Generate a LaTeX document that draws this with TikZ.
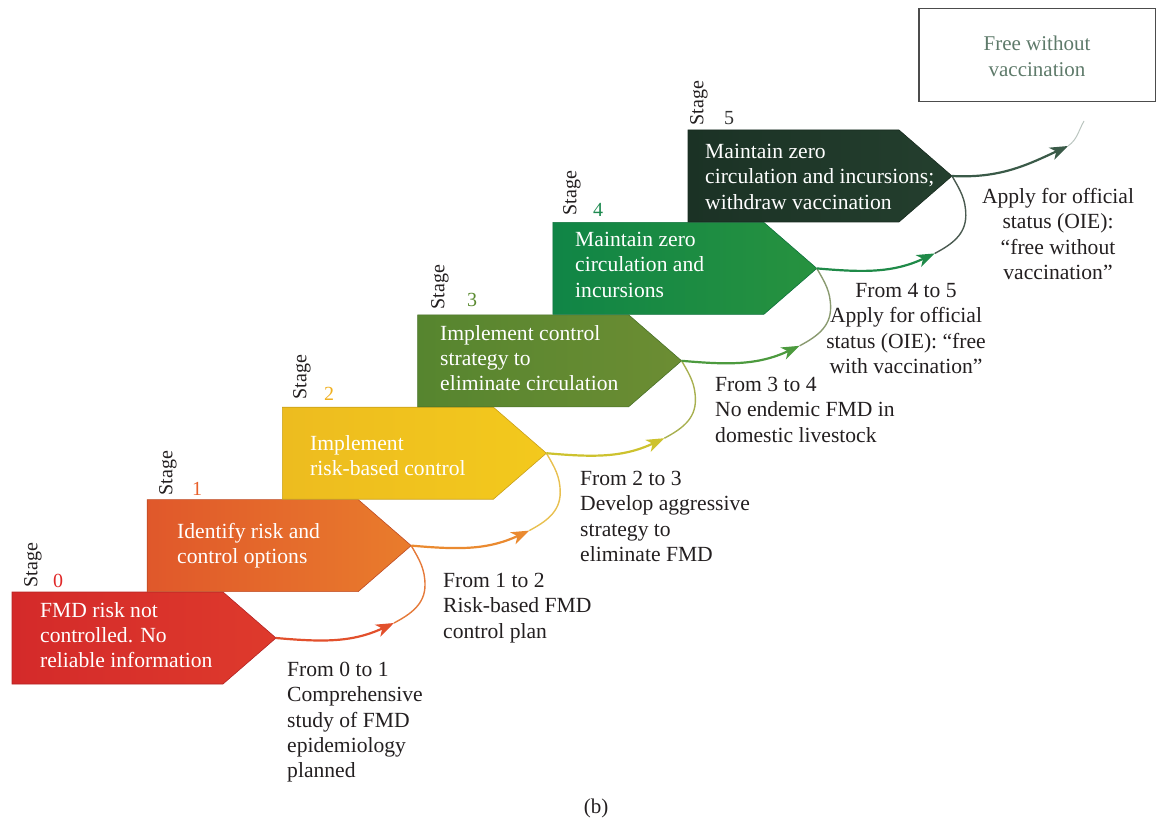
\documentclass[tikz,border=0pt]{standalone}
\usepackage{fontspec}
\setmainfont{Liberation Serif}
\usetikzlibrary{arrows.meta}
\definecolor{sA0}{HTML}{D42A2A}\definecolor{sB0}{HTML}{DE3A2C}
\definecolor{sA1}{HTML}{E0582B}\definecolor{sB1}{HTML}{E97C2C}
\definecolor{sA2}{HTML}{EDBC1F}\definecolor{sB2}{HTML}{F3C91D}
\definecolor{sA3}{HTML}{56852F}\definecolor{sB3}{HTML}{6C8D33}
\definecolor{sA4}{HTML}{108546}\definecolor{sB4}{HTML}{27923F}
\definecolor{sA5}{HTML}{1B3225}\definecolor{sB5}{HTML}{243F2E}
\definecolor{n0}{HTML}{E02828}\definecolor{n1}{HTML}{E8602A}
\definecolor{n2}{HTML}{F0B020}\definecolor{n3}{HTML}{5A8A30}
\definecolor{n4}{HTML}{1E8A50}\definecolor{n5}{HTML}{333333}
\definecolor{c0}{HTML}{E2502C}\definecolor{d0}{HTML}{E57A3A}
\definecolor{c1}{HTML}{EA8A30}\definecolor{d1}{HTML}{E8C050}
\definecolor{c2}{HTML}{CDC22E}\definecolor{d2}{HTML}{A8B050}
\definecolor{c3}{HTML}{4C9A3E}\definecolor{d3}{HTML}{8A9A70}
\definecolor{c4}{HTML}{1F8A48}\definecolor{d4}{HTML}{4A5A50}
\definecolor{c5}{HTML}{3A5A48}
\definecolor{labtext}{HTML}{231F20}
\definecolor{freetext}{HTML}{5E7A6A}
\newcommand\mystage[4]{\shade[left color=#3,right color=#4,draw=#3!85!black,line width=0.6pt] (#1,#2) -- ++(211,0) -- ++(53,46) -- ++(-53,46) -- ++(-211,0) -- cycle;}
\begin{document}
\begin{tikzpicture}[x=1pt,y=-1pt,
  boxtext/.style={anchor=north west,inner sep=0pt,align=left,text=white,font=\fontsize{21.6}{25.3}\selectfont},
  labelL/.style={anchor=north west,inner sep=0pt,align=left,text=labtext,font=\fontsize{21.6}{25.3}\selectfont},
  labelC/.style={anchor=north,inner sep=0pt,align=center,text=labtext,font=\fontsize{21.6}{25.3}\selectfont},
  stagelab/.style={rotate=90,inner sep=0pt,text=labtext,font=\fontsize{20}{22}\selectfont},
  stagenum/.style={inner sep=0pt,font=\fontsize{20}{22}\selectfont},
  mainline/.style={line width=2.2pt,-{Stealth[length=18pt,width=13pt,inset=5pt]}},
  loopline/.style={line width=1.4pt}]
\useasboundingbox (0,0) rectangle (1156,826);
% stages
\mystage{12}{592}{sA0}{sB0}
\mystage{147.2}{499.6}{sA1}{sB1}
\mystage{282.4}{407.2}{sA2}{sB2}
\mystage{417.6}{314.8}{sA3}{sB3}
\mystage{552.8}{222.4}{sA4}{sB4}
\mystage{688}{130}{sA5}{sB5}
% tips
\coordinate (tip0) at (276,638);
\coordinate (tip1) at (411.2,545.6);
\coordinate (tip2) at (546.4,453.2);
\coordinate (tip3) at (681.6,360.8);
\coordinate (tip4) at (816.8,268.4);
\coordinate (tip5) at (952,176);
\coordinate (m0) at (394,623);
\coordinate (m1) at (529.2,530.6);
\coordinate (m2) at (664.4,438.2);
\coordinate (m3) at (799.6,345.8);
\coordinate (m4) at (934.8,253.4);
\coordinate (m5) at (1068,146);
\coordinate (end5) at (1084,121);
\coordinate (b0) at (425,585);
\coordinate (b1) at (560.2,492.6);
\coordinate (b2) at (695.4,400.2);
\coordinate (b3) at (830.6,307.8);
\coordinate (b4) at (965.8,215.4);
% connectors
\draw[loopline,d0] (m0) to[out=28,in=-90] (b0) to[out=90,in=-60] (tip1);
\draw[loopline,d1] (m1) to[out=28,in=-90] (b1) to[out=90,in=-60] (tip2);
\draw[loopline,d2] (m2) to[out=28,in=-90] (b2) to[out=90,in=-60] (tip3);
\draw[loopline,d3] (m3) to[out=28,in=-90] (b3) to[out=90,in=-60] (tip4);
\draw[loopline,d4] (m4) to[out=28,in=-90] (b4) to[out=90,in=-60] (tip5);
\draw[mainline,c0] (tip0) to[out=-5,in=205] (m0);
\draw[mainline,c1] (tip1) to[out=-5,in=205] (m1);
\draw[mainline,c2] (tip2) to[out=-5,in=205] (m2);
\draw[mainline,c3] (tip3) to[out=-5,in=205] (m3);
\draw[mainline,c4] (tip4) to[out=-5,in=205] (m4);
\draw[mainline,c5] (tip5) to[out=-3,in=205] (m5);
\draw[line width=1pt,c5!35] (m5) to[out=35,in=240] (end5);
% stage texts
\node[boxtext] (t0) at (40,602) {FMD risk not\\controlled. No\\reliable information};
\node[boxtext] (t1) at (177,523) {Identify risk and\\control options};
\node[boxtext] (t2) at (310,435) {Implement\\risk-based control};
\node[boxtext] (t3) at (440,325) {Implement control\\strategy to\\eliminate circulation};
\node[boxtext] (t4) at (575,232) {Maintain zero\\circulation and\\incursions};
\node[boxtext] (t5) at (705,144) {Maintain zero\\circulation and incursions;\\withdraw vaccination};
% stage labels
\node[stagelab] (sl0) at (33,565) {Stage};
\node[stagelab] (sl1) at (168,473) {Stage};
\node[stagelab] (sl2) at (302,377) {Stage};
\node[stagelab] (sl3) at (440,287) {Stage};
\node[stagelab] (sl4) at (572,193) {Stage};
\node[stagelab] (sl5) at (699,103) {Stage};
\node[stagenum,text=n0] (sn0) at (58,581) {0};
\node[stagenum,text=n1] (sn1) at (197,489) {1};
\node[stagenum,text=n2] (sn2) at (329,394) {2};
\node[stagenum,text=n3] (sn3) at (472,300) {3};
\node[stagenum,text=n4] (sn4) at (598,210) {4};
\node[stagenum,text=n5] (sn5) at (729,118) {5};
% transition labels
\node[labelL] (l01) at (287,662) {From 0 to 1\\Comprehensive\\study of FMD\\epidemiology\\planned};
\node[labelL] (l12) at (443,573) {From 1 to 2\\Risk-based FMD\\control plan};
\node[labelL] (l23) at (580,471) {From 2 to 3\\Develop aggressive\\strategy to\\eliminate FMD};
\node[labelL] (l34) at (715,377) {From 3 to 4\\No endemic FMD in\\domestic livestock};
\node[labelC] (l45) at (906,283) {From 4 to 5\\Apply for official\\status (OIE): “free\\with vaccination”};
\node[labelC] (l5e) at (1058,188) {Apply for official\\status (OIE):\\“free without\\vaccination”};
% free box
\draw[line width=1.2pt,draw=black!70] (919,8.5) rectangle (1155.5,101.5);
\node[inner sep=0pt,align=center,text=freetext,font=\fontsize{21}{25.3}\selectfont,anchor=north] (free) at (1037,36) {Free without\\vaccination};
\node[inner sep=0pt,text=labtext,font=\fontsize{21}{24}\selectfont] (cap) at (596,808) {(b)};
\end{tikzpicture}
\end{document}
